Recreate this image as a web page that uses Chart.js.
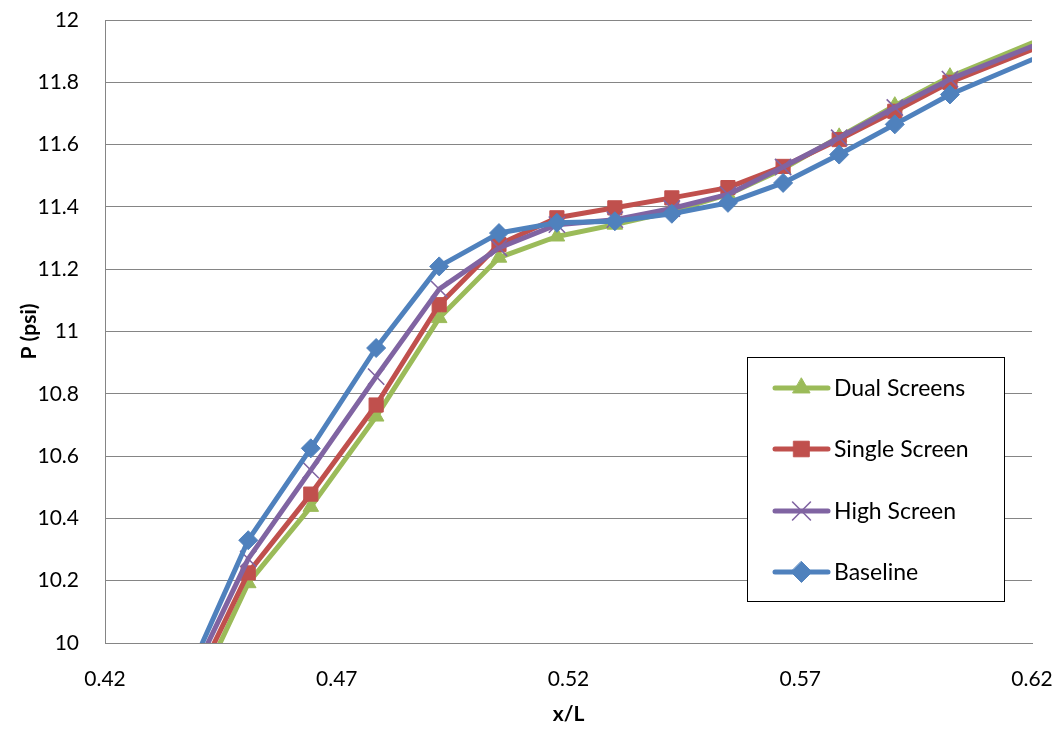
<!DOCTYPE html>
<html><head><meta charset="utf-8">
<script src="https://cdn.jsdelivr.net/npm/chart.js@4.4.0/dist/chart.umd.min.js"></script>
<style>html,body{margin:0;padding:0;background:#fff}canvas{display:block}</style>
</head><body>
<canvas id="c" width="1059" height="732"></canvas>
<script>
// ---- data ----
const xValues      = [0.4374, 0.4509, 0.4644, 0.4785, 0.4921, 0.5050, 0.5175, 0.5300, 0.5423, 0.5544, 0.5663, 0.5784, 0.5904, 0.6023, 0.6300];
const dualScreens  = [9.765, 10.192, 10.437, 10.727, 11.043, 11.237, 11.305, 11.343, 11.385, 11.440, 11.522, 11.625, 11.725, 11.818, 11.988];
const singleScreen = [9.810, 10.225, 10.478, 10.764, 11.086, 11.279, 11.365, 11.397, 11.429, 11.462, 11.530, 11.616, 11.707, 11.800, 11.965];
const highScreen   = [9.850, 10.270, 10.555, 10.855, 11.136, 11.268, 11.343, 11.359, 11.395, 11.440, 11.528, 11.622, 11.719, 11.810, 11.975];
const baseline     = [9.880, 10.330, 10.625, 10.947, 11.209, 11.316, 11.349, 11.354, 11.378, 11.413, 11.477, 11.568, 11.665, 11.761, 11.936];
const seriesNames  = ['Dual Screens', 'Single Screen', 'High Screen', 'Baseline'];
const xTickValues  = [0.42, 0.47, 0.52, 0.57, 0.62];
const xTickLabels  = ['0.42', '0.47', '0.52', '0.57', '0.62'];
const yTickValues  = [10, 10.2, 10.4, 10.6, 10.8, 11, 11.2, 11.4, 11.6, 11.8, 12];
const yTickLabels  = ['10', '10.2', '10.4', '10.6', '10.8', '11', '11.2', '11.4', '11.6', '11.8', '12'];
const xTitle = 'x/L';
const yTitle = 'P (psi)';

// ---- styles ----
const styleMap = {
  'Dual Screens':  {color: '#9BBB59', point: 'triangle', r: 9,   pbw: 1},
  'Single Screen': {color: '#C0504D', point: 'rect',     r: 10,  pbw: 1},
  'High Screen':   {color: '#8064A2', point: 'crossRot', r: 11.5, pbw: 1.6},
  'Baseline':      {color: '#4F81BD', point: 'rectRot',  r: 9.5, pbw: 1}
};
const seriesValues = {
  'Dual Screens': dualScreens, 'Single Screen': singleScreen,
  'High Screen': highScreen, 'Baseline': baseline
};
const FONT = 'Lato, "Open Sans", sans-serif';
const GRID = '#858585';

// draw order: Baseline on top -> dataset index 0
const drawOrder = ['Baseline', 'High Screen', 'Single Screen', 'Dual Screens'];
const datasets = drawOrder.map(name => {
  const s = styleMap[name];
  return {
    label: name,
    data: xValues.map((x, i) => ({x: x, y: seriesValues[name][i]})),
    borderColor: s.color,
    backgroundColor: s.color,
    borderWidth: 5,
    borderJoinStyle: 'round',
    borderCapStyle: 'round',
    pointStyle: s.point,
    pointRadius: s.r,
    pointHoverRadius: s.r,
    pointBorderWidth: s.pbw,
    pointBorderColor: s.color,
    pointBackgroundColor: s.color,
    tension: 0,
    clip: 0
  };
});

function marker(ctx, style, x, y, r, color, bw) {
  ctx.save();
  ctx.fillStyle = color; ctx.strokeStyle = color; ctx.lineWidth = bw;
  ctx.beginPath();
  if (style === 'triangle') {
    for (let k = 0; k < 3; k++) {
      const a = -Math.PI / 2 + k * 2 * Math.PI / 3;
      const px = x + Math.cos(a) * r, py = y + Math.sin(a) * r;
      k ? ctx.lineTo(px, py) : ctx.moveTo(px, py);
    }
    ctx.closePath(); ctx.fill(); ctx.stroke();
  } else if (style === 'rect') {
    const h = r * Math.SQRT1_2;
    ctx.rect(x - h, y - h, 2 * h, 2 * h); ctx.fill(); ctx.stroke();
  } else if (style === 'rectRot') {
    ctx.moveTo(x, y - r); ctx.lineTo(x + r, y); ctx.lineTo(x, y + r); ctx.lineTo(x - r, y);
    ctx.closePath(); ctx.fill(); ctx.stroke();
  } else if (style === 'crossRot') {
    const h = r * Math.SQRT1_2;
    ctx.moveTo(x - h, y - h); ctx.lineTo(x + h, y + h);
    ctx.moveTo(x + h, y - h); ctx.lineTo(x - h, y + h);
    ctx.stroke();
  }
  ctx.restore();
}

const legendPlugin = {
  id: 'boxLegend',
  afterDraw(chart) {
    const ctx = chart.ctx;
    ctx.save();
    ctx.fillStyle = '#fff';
    ctx.fillRect(747.5, 357.5, 257, 244);
    ctx.strokeStyle = '#000';
    ctx.lineWidth = 1;
    ctx.strokeRect(747.5, 357.5, 257, 244);
    const rows = [388, 449, 511, 572];
    seriesNames.forEach((name, i) => {
      const s = styleMap[name];
      const y = rows[i];
      ctx.strokeStyle = s.color;
      ctx.lineWidth = 5;
      ctx.lineCap = 'round';
      ctx.beginPath(); ctx.moveTo(775, y); ctx.lineTo(828, y); ctx.stroke();
      marker(ctx, s.point, 801.5, y, s.r * 1.1, s.color, s.pbw);
      ctx.fillStyle = '#000';
      ctx.font = '23px ' + FONT;
      ctx.textBaseline = 'middle';
      ctx.textAlign = 'left';
      ctx.fillText(name, 834, y + 1);
    });
    ctx.restore();
  }
};

function zeroPad(s) { s.paddingLeft = 0; s.paddingRight = 0; s.paddingTop = 0; s.paddingBottom = 0; }

new Chart(document.getElementById('c'), {
  type: 'line',
  data: {datasets: datasets},
  plugins: [legendPlugin],
  options: {
    responsive: false,
    maintainAspectRatio: false,
    animation: false,
    devicePixelRatio: 1,
    layout: {autoPadding: false, padding: {left: 0, right: 27, top: 20, bottom: 0}},
    plugins: {legend: {display: false}, tooltip: {enabled: false}, title: {display: false}},
    scales: {
      x: {
        type: 'linear', position: 'bottom', min: 0.42, max: 0.62,
        afterFit: s => { s.height = 89; zeroPad(s); },
        afterBuildTicks: s => { s.ticks = xTickValues.map(v => ({value: v})); },
        grid: {display: false, drawTicks: false},
        border: {display: true, color: GRID, width: 1},
        ticks: {
          padding: 24, color: '#000', font: {family: FONT, size: 21},
          maxRotation: 0, autoSkip: false,
          callback: (v, i) => xTickLabels[i]
        },
        title: {display: true, text: xTitle, color: '#000',
          font: {family: FONT, size: 21, weight: 'bold'}, padding: {top: 0, bottom: 5}}
      },
      y: {
        type: 'linear', min: 10, max: 12,
        afterFit: s => { s.width = 105; zeroPad(s); },
        afterBuildTicks: s => { s.ticks = yTickValues.map(v => ({value: v})); },
        grid: {color: GRID, lineWidth: 1, drawTicks: false},
        border: {display: true, color: GRID, width: 1},
        ticks: {
          padding: 26, color: '#000', font: {family: FONT, size: 21},
          autoSkip: false,
          callback: (v, i) => yTickLabels[i]
        },
        title: {display: true, text: yTitle, color: '#000',
          font: {family: FONT, size: 21, weight: 'bold'}, padding: {top: 17, bottom: 0}}
      }
    }
  }
});
</script>
</body></html>
